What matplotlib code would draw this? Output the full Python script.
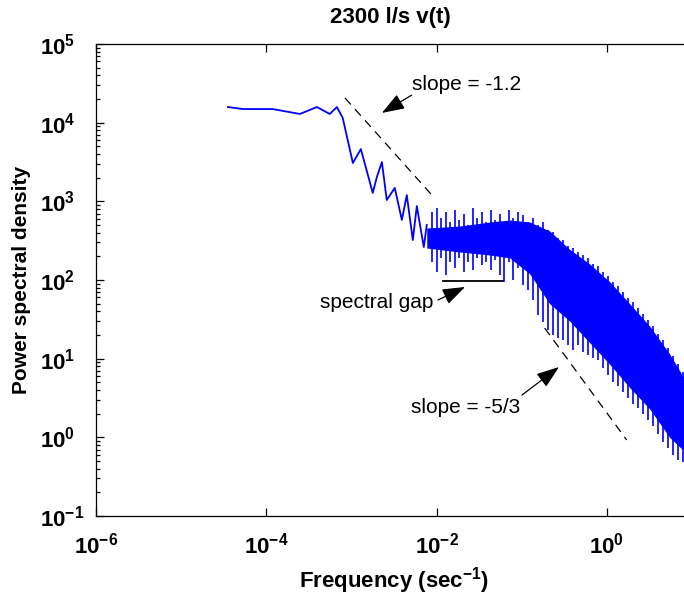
import numpy as np
import matplotlib
matplotlib.use('Agg')
import matplotlib.pyplot as plt
from matplotlib.ticker import FixedLocator, NullLocator, NullFormatter

plt.rcParams['font.family'] = ['Liberation Sans', 'DejaVu Sans']
plt.rcParams['mathtext.default'] = 'regular'

title = '2300 l/s v(t)'
xlabel = 'Frequency (sec$^{-1}$)'
ylabel = 'Power spectral density'
x_ticks = [1e-6, 1e-4, 1e-2, 1e0]
y_ticks = [1e-1, 1e0, 1e1, 1e2, 1e3, 1e4, 1e5]

# low-frequency part of the spectrum (single trace)
low_freq = [3.54e-5, 5.31e-5, 1.19e-4, 2.48e-4, 3.93e-4, 5.57e-4, 6.75e-4, 7.9e-4,
            1.04e-3, 1.29e-3, 1.78e-3, 1.99e-3, 2.28e-3, 2.60e-3, 3.23e-3, 3.91e-3,
            4.47e-3, 5.26e-3, 5.86e-3, 7.08e-3, 7.67e-3]
low_psd = [1.58e4, 1.49e4, 1.49e4, 1.29e4, 1.58e4, 1.29e4, 1.58e4, 1.15e4,
           3.07e3, 4.62e3, 1.28e3, 2.04e3, 3.16e3, 1.04e3, 1.48e3, 580,
           1.20e3, 322, 871, 262, 500]

# dense high-frequency band: body envelope
band_freq = [7.67e-3, 0.0187, 0.0421, 0.0723, 0.124, 0.213, 0.366, 0.628, 1.08, 1.85, 3.18, 5.46, 7.96]
band_top = [458, 485, 546, 579, 546, 420, 245, 160, 95, 50, 26, 11.5, 5.8]
band_bottom = [255, 227, 208, 191, 120, 50, 30, 16, 8.5, 4.3, 2.3, 1.0, 0.68]

# spikes sticking out of the band (tips above and below)
spike_freq = [8.83e-3, 0.0101, 0.0113, 0.0129, 0.0144, 0.0165, 0.0184, 0.0210, 0.0234, 0.0268,
              0.0299, 0.0342, 0.0381, 0.0436, 0.0485, 0.0556, 0.0619, 0.0710, 0.0791, 0.0906,
              0.1035, 0.1186, 0.136, 0.155, 0.178, 0.204, 0.233, 0.267, 0.305, 0.350,
              0.401, 0.458, 0.525, 0.601, 0.687, 0.787, 0.902, 1.03, 1.18, 1.35,
              1.55, 1.77, 2.03, 2.32, 2.66, 3.04, 3.48, 3.99, 4.57, 5.22,
              5.98, 6.85, 7.84]
spike_top = [731, 822, 614, 731, 546, 776, 579, 690, 500, 822,
             614, 731, 546, 776, 579, 690, 546, 776, 614, 731,
             670, 546, 614, 500, 546, 432, 407, 342, 322, 270,
             255, 227, 208, 191, 160, 151, 126, 112, 94, 84,
             70, 59, 52, 44, 37, 31, 26, 20.6, 17.3, 13.7,
             10.8, 8.6, 6.8]
spike_bottom = [169, 126, 191, 116, 169, 142, 191, 126, 169, 134,
                191, 155, 169, 134, 179, 116, 94, 169, 100, 142,
                86, 75, 56, 36, 29, 23.1, 20.0, 18.3, 17.3, 14.9,
                12.9, 14.9, 12.2, 11.1, 10.2, 9.6, 7.6, 6.2, 5.0, 4.5,
                3.8, 3.16, 2.65, 2.36, 1.98, 1.66, 1.39, 1.10, 0.87, 0.73,
                0.60, 0.52, 0.485]

# reference lines
slope1_freq = [8.4e-4, 9.0e-3]
slope1_psd = [2.06e4, 1170]
slope2_freq = [0.186, 1.71]
slope2_psd = [24.5, 0.925]
gap_freq = [0.0118, 0.060]
gap_psd = [97, 97]

fig = plt.figure(figsize=(6.84, 5.99), dpi=100)
ax = fig.add_axes([96 / 684, 83 / 599, (692 - 96) / 684, 472 / 599])
ax.set_xscale('log')
ax.set_yscale('log')
ax.set_xlim(1e-6, 1e1)
ax.set_ylim(1e-1, 1e5)

blue = '#0000ff'
ax.plot(low_freq, low_psd, color=blue, lw=1.3, zorder=3)
ax.fill_between(band_freq, band_bottom, band_top, color=blue, lw=0, zorder=3)

lbf = np.log10(band_freq)
mid = (np.log10(band_top) + np.log10(band_bottom)) / 2
base = 10 ** np.interp(np.log10(spike_freq), lbf, mid)
ax.vlines(spike_freq, base, spike_top, color=blue, lw=1.2, zorder=3)
ax.vlines(spike_freq, spike_bottom, base, color=blue, lw=1.2, zorder=3)

ax.plot(slope1_freq, slope1_psd, color='black', lw=0.9, dashes=(7, 5))
ax.plot(slope2_freq, slope2_psd, color='black', lw=0.9, dashes=(7, 5))
ax.plot(gap_freq, gap_psd, color='black', lw=1.3)

arrowprops = dict(arrowstyle='-|>,head_length=0.7,head_width=0.25', color='black',
                  lw=0.9, mutation_scale=20, shrinkA=0, shrinkB=0)
ax.annotate('', xy=(2.28e-3, 1.33e4), xytext=(5.1e-3, 2.24e4), arrowprops=arrowprops)
ax.text(5.1e-3, 3.1e4, 'slope = -1.2', fontsize=15, ha='left', va='center')
ax.annotate('', xy=(0.0216, 81.5), xytext=(0.0104, 55.7), arrowprops=arrowprops)
ax.text(9.1e-3, 52.5, 'spectral gap', fontsize=15, ha='right', va='center')
ax.annotate('', xy=(0.274, 7.83), xytext=(0.1007, 3.45), arrowprops=arrowprops)
ax.text(0.0955, 2.36, 'slope = -5/3', fontsize=15, ha='right', va='center')

minor_y = [m * 10.0 ** e for e in range(-1, 5) for m in range(2, 10)]
ax.xaxis.set_major_locator(FixedLocator(x_ticks))
ax.xaxis.set_minor_locator(NullLocator())
ax.yaxis.set_major_locator(FixedLocator(y_ticks))
ax.yaxis.set_minor_locator(FixedLocator(minor_y))
ax.yaxis.set_minor_formatter(NullFormatter())
ax.tick_params(which='both', direction='in', top=True, right=False,
               labelsize=16, width=0.9)
ax.tick_params(which='major', length=6)
ax.tick_params(axis='x', which='major', pad=12)
ax.tick_params(axis='y', which='major', pad=40)
ax.tick_params(which='minor', length=3)
for lab in ax.get_xticklabels():
    lab.set_fontweight('bold')
for lab in ax.get_yticklabels():
    lab.set_fontweight('bold')
    lab.set_horizontalalignment('left')
ax.spines['right'].set_visible(False)
for s in ['left', 'bottom', 'top']:
    ax.spines[s].set_linewidth(0.9)

ax.set_xlabel(xlabel, fontsize=16, fontweight='bold', labelpad=5)
ax.set_ylabel(ylabel, fontsize=15, fontweight='bold', labelpad=7)
fig.text(390 / 684, 1 - 18 / 599, title, fontsize=16, fontweight='bold', ha='center', va='center')

fig.savefig('out.png', dpi=100)
